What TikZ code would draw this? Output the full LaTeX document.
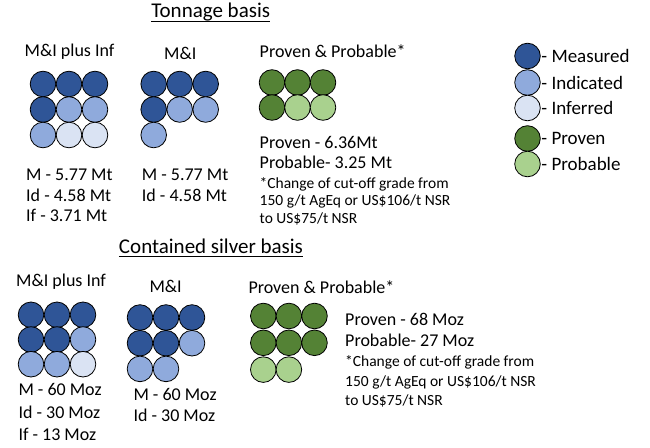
\documentclass[tikz,border=0pt]{standalone}
\usepackage{fontspec}
\setmainfont{Carlito}
\usetikzlibrary{positioning}

\definecolor{measblue}{HTML}{2F5597}
\definecolor{indblue}{HTML}{8FAADC}
\definecolor{infblue}{HTML}{DAE3F3}
\definecolor{provgreen}{HTML}{548235}
\definecolor{probgreen}{HTML}{A9D18E}

\tikzset{
	ball/.style = {circle, draw = black, line width = 0.8pt, minimum size = 25.6pt, inner sep = 0pt},
	measured/.style = {ball, fill = measblue},
	indicated/.style = {ball, fill = indblue},
	inferred/.style = {ball, fill = infblue},
	proven/.style = {ball, fill = provgreen},
	probable/.style = {ball, fill = probgreen},
	heading/.style = {inner sep = 0pt, anchor = base, font = \fontsize{21}{24}\selectfont},
	lbl/.style = {inner sep = 0pt, anchor = base west, font = \fontsize{18}{20}\selectfont},
	note/.style = {inner sep = 0pt, anchor = base west, font = \fontsize{15.5}{18}\selectfont},
	key/.style = {inner sep = 0pt, anchor = west, font = \fontsize{19}{21}\selectfont}
}

\begin{document}
\begin{tikzpicture}[x = 1pt, y = -1pt]
		\useasboundingbox (0,0) rectangle (650,447);
		% tonnage basis
		\node[heading] (tonnage) at (210.7,17.5) {Tonnage basis};
		\draw[line width = 0.8pt] ([yshift = -3.5pt]tonnage.base west) -- ([yshift = -3.5pt]tonnage.base east);
		\node[lbl] (tAhead) at (24.5,56) {M\&I plus Inf};
		\node[lbl] (tBhead) at (164,59) {M\&I};
		\node[lbl] (tChead) at (259.5,57) {Proven \& Probable*};
		\foreach \kind [count = \i from 0] in {measured,measured,measured,measured,indicated,indicated,indicated,inferred,inferred}
			\node[\kind] (tA\i) at ({43+26*mod(\i,3)},{84+25.5*int(\i/3)}) {};
		\foreach \kind [count = \i from 0] in {measured,measured,measured,measured,indicated,indicated,indicated}
			\node[\kind] (tB\i) at ({153.7+26*mod(\i,3)},{84+25.5*int(\i/3)}) {};
		\foreach \kind [count = \i from 0] in {proven,proven,proven,proven,probable,probable}
			\node[\kind] (tC\i) at ({272+25.5*mod(\i,3)},{82.5+25*int(\i/3)}) {};
		\node[lbl] (tAm) at (26,180) {M - 5.77 Mt};
		\node[lbl] (tAid) at (26,201) {Id - 4.58 Mt};
		\node[lbl] (tAif) at (26,221.5) {If - 3.71 Mt};
		\node[lbl] (tBm) at (141.7,180) {M - 5.77 Mt};
		\node[lbl] (tBid) at (141.7,201) {Id - 4.58 Mt};
		\node[lbl] (tCpv) at (259.5,148.3) {Proven - 6.36Mt};
		\node[lbl] (tCpb) at (259.5,168.3) {Probable- 3.25 Mt};
		\node[note] (tCn1) at (259.5,188) {*Change of cut-off grade from};
		\node[note] (tCn2) at (259.5,205.5) {150 g/t AgEq or US\$106/t NSR};
		\node[note] (tCn3) at (259.5,223.5) {to US\$75/t NSR};
		% legend
		\node[measured] (lgM) at (527.5,56) {};
		\node[indicated] (lgId) at (527.5,82.5) {};
		\node[inferred] (lgIf) at (527.5,108) {};
		\node[proven] (lgPv) at (527.5,138.5) {};
		\node[probable] (lgPb) at (527.5,164) {};
		\node[key, right = 0.5pt of lgM] {- Measured};
		\node[key, right = 0.5pt of lgId] {- Indicated};
		\node[key, right = 0.5pt of lgIf] {- Inferred};
		\node[key, right = 0.5pt of lgPv] {- Proven};
		\node[key, right = 0.5pt of lgPb] {- Probable};
		% contained silver basis
		\node[heading] (silver) at (211,253.3) {Contained silver basis};
		\draw[line width = 0.8pt] ([yshift = -3.5pt]silver.base west) -- ([yshift = -3.5pt]silver.base east);
		\node[lbl] (sAhead) at (16,286.6) {M\&I plus Inf};
		\node[lbl] (sBhead) at (149.3,292) {M\&I};
		\node[lbl] (sChead) at (248.3,293) {Proven \& Probable*};
		\foreach \kind [count = \i from 0] in {measured,measured,measured,measured,measured,indicated,indicated,indicated,inferred}
			\node[\kind] (sA\i) at ({31+26*mod(\i,3)},{314.8+24.7*int(\i/3)}) {};
		\foreach \kind [count = \i from 0] in {measured,measured,measured,measured,measured,indicated,indicated,indicated}
			\node[\kind] (sB\i) at ({140+26*mod(\i,3)},{317.5+25.7*int(\i/3)}) {};
		\foreach \kind [count = \i from 0] in {proven,proven,proven,proven,proven,proven,probable,probable}
			\node[\kind] (sC\i) at ({263.3+25.6*mod(\i,3)},{316+26.8*int(\i/3)}) {};
		\node[lbl] (sAm) at (18.3,395) {M - 60 Moz};
		\node[lbl] (sAid) at (18.3,418) {Id - 30 Moz};
		\node[lbl] (sAif) at (18.3,440) {If - 13 Moz};
		\node[lbl] (sBm) at (133.3,400) {M - 60 Moz};
		\node[lbl] (sBid) at (133.3,421.7) {Id - 30 Moz};
		\node[lbl] (sCpv) at (345,325) {Proven - 68 Moz};
		\node[lbl] (sCpb) at (345,346.7) {Probable- 27 Moz};
		\node[note] (sCn1) at (345,366.7) {*Change of cut-off grade from};
		\node[note] (sCn2) at (345,386.5) {150 g/t AgEq or US\$106/t NSR};
		\node[note] (sCn3) at (345,405) {to US\$75/t NSR};
	\end{tikzpicture}
\end{document}
